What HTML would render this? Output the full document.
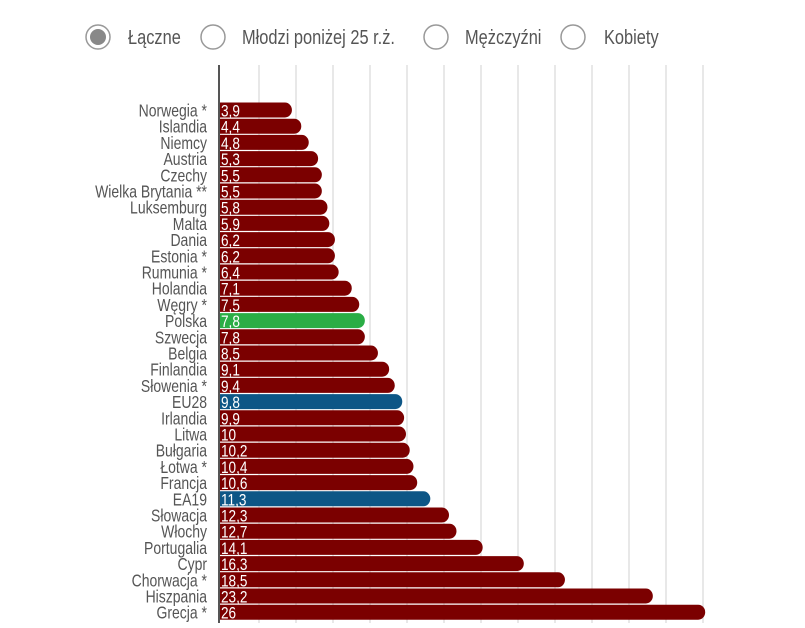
<!DOCTYPE html>
<html><head><meta charset="utf-8"><style>
body{margin:0;background:#fff;width:805px;height:623px;overflow:hidden;font-family:"Liberation Sans",sans-serif}
svg text{font-family:"Liberation Sans",sans-serif}
</style></head><body>
<svg id="chart" width="805" height="623" xmlns="http://www.w3.org/2000/svg">
<g id="legend"></g>
<g id="grid"></g>
<g id="bars"></g>
<line x1="219" y1="65" x2="219" y2="623" stroke="#555" stroke-width="2"/>
</svg>
<script>
const categories=["Norwegia *","Islandia","Niemcy","Austria","Czechy","Wielka Brytania **","Luksemburg","Malta","Dania","Estonia *","Rumunia *","Holandia","Węgry *","Polska","Szwecja","Belgia","Finlandia","Słowenia *","EU28","Irlandia","Litwa","Bułgaria","Łotwa *","Francja","EA19","Słowacja","Włochy","Portugalia","Cypr","Chorwacja *","Hiszpania","Grecja *"];
const values=[3.9,4.4,4.8,5.3,5.5,5.5,5.8,5.9,6.2,6.2,6.4,7.1,7.5,7.8,7.8,8.5,9.1,9.4,9.8,9.9,10,10.2,10.4,10.6,11.3,12.3,12.7,14.1,16.3,18.5,23.2,26];
const valueLabels=["3,9","4,4","4,8","5,3","5,5","5,5","5,8","5,9","6,2","6,2","6,4","7,1","7,5","7,8","7,8","8,5","9,1","9,4","9,8","9,9","10","10,2","10,4","10,6","11,3","12,3","12,7","14,1","16,3","18,5","23,2","26"];
const options=["Łączne","Młodzi poniżej 25 r.ż.","Mężczyźni","Kobiety"];
const NS="http://www.w3.org/2000/svg";
const x0=219,xs=18.7;
const xScale=v=>x0+v*xs;
const yScale=i=>110+i*16.2;
function mk(tag,attrs,parent){const e=document.createElementNS(NS,tag);for(const k in attrs)e.setAttribute(k,attrs[k]);parent.appendChild(e);return e;}
const grid=document.getElementById('grid');
for(let k=0;k<13;k++){
  const l=mk('line',{x1:259+37*k,x2:259+37*k,y1:65,y2:623,stroke:'#d0d0d0','stroke-width':1},grid);
  
  
}
const bars=document.getElementById('bars');
categories.forEach((c,i)=>{
  const y=yScale(i);
  const col=c==="Polska"?"#2aad45":(c==="EU28"||c==="EA19")?"#0d5686":"#7b0000";
  const w=xScale(values[i])-x0;
  const p=mk('path',{d:`M${x0} ${y-7.5}H${x0+w-7}A7 7.5 0 0 1 ${x0+w-7} ${y+7.5}H${x0}Z`,fill:col},bars);
  
  
  const t=mk('text',{transform:`translate(${x0+2},${y+6.5}) scale(0.8,1)`,fill:'#fff','font-size':17},bars);
  t.textContent=valueLabels[i];
  
  
  const n=mk('text',{transform:`translate(207,${y+6.5}) scale(0.8,1)`,fill:'#555','font-size':17.5,'text-anchor':'end'},bars);
  n.textContent=c;
  
  
});
const lg=document.getElementById('legend');
const cx=[98,213,436,573],tx=[128,242,465,604];
options.forEach((o,i)=>{
  const g=mk('g',{},lg);
  
  
  mk('circle',{cx:cx[i],cy:37,r:12,fill:'#fff',stroke:'#999','stroke-width':1.5},g);
  if(i===0)mk('circle',{cx:cx[i],cy:37,r:8,fill:'#888'},g);
  const t=mk('text',{transform:`translate(${tx[i]},44) scale(0.82,1)`,fill:'#555','font-size':20},g);
  t.textContent=o;
});
</script>
</body></html>
